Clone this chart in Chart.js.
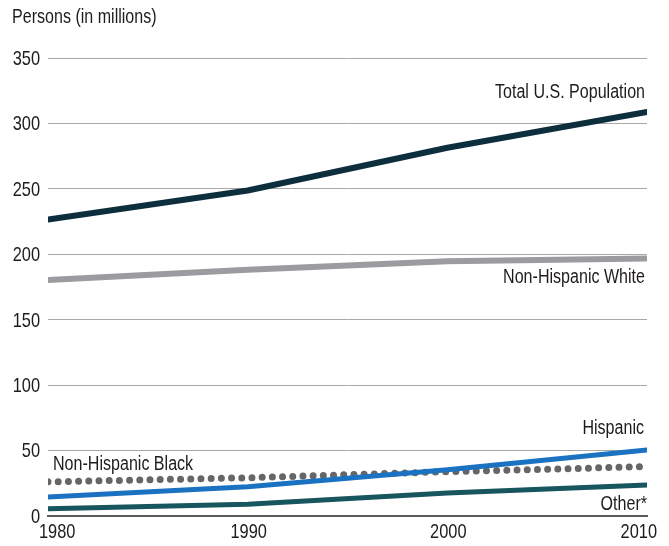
<!DOCTYPE html>
<html>
<head>
<meta charset="utf-8">
<script src="https://cdn.jsdelivr.net/npm/chart.js@4/dist/chart.umd.min.js"></script>
<style>
  html, body { margin: 0; padding: 0; background: #fff; }
  #wrap { width: 669px; height: 546px; position: relative; }
</style>
</head>
<body>
<div id="wrap"><canvas id="myChartPop"></canvas></div>
<script>
// data (persons, millions)
const years = [1980, 1990, 2000, 2010];
const totalPop = [226.5, 248.7, 281.4, 308.7];
const nhWhite = [180.3, 188.1, 194.6, 196.8];
const hispanic = [14.6, 22.4, 35.3, 50.5];
const nhBlack = [26.1, 29.2, 33.9, 37.7];
const other = [5.5, 9.0, 17.6, 23.7];
const yTicks = [0, 50, 100, 150, 200, 250, 300, 350];

// no condensed face installed, so text gets squeezed horizontally
const fontFam = "'Liberation Sans', Arial, sans-serif";
const textColor = '#1f1b1c';

function pts(vals) {
    return vals.map((v, i) => ({ x: years[i], y: v }));
}

function line(label, vals, color, width, extra) {
    return Object.assign({
        label: label,
        data: pts(vals),
        borderColor: color,
        backgroundColor: color,
        borderWidth: width,
        pointRadius: 0,
        tension: 0,
        borderCapStyle: 'round',
        borderJoinStyle: 'round'
    }, extra || {});
}

function squeezed(ctx, text, x, y, align, sx) {
    ctx.save();
    ctx.translate(x, y);
    ctx.scale(sx, 1);
    ctx.textAlign = align;
    ctx.fillText(text, 0, 0);
    ctx.restore();
}

// tick labels + series labels
const textPlugin = {
    id: 'condensedText',
    afterDraw(chart) {
        const ctx = chart.ctx;
        const xs = chart.scales.x;
        const ys = chart.scales.y;
        ctx.save();
        ctx.fillStyle = textColor;

        // ticks
        ctx.font = '21px ' + fontFam;
        ctx.textBaseline = 'middle';
        const tsx = 0.78;
        ys.ticks.forEach(t => {
            squeezed(ctx, String(t.value), 40, ys.getPixelForValue(t.value) + 1, 'right', tsx);
        });
        xs.ticks.forEach((t, i) => {
            const px = xs.getPixelForValue(t.value);
            if (i === 0) {
                squeezed(ctx, String(t.value), px - 9, 532, 'left', tsx);
            } else if (i === xs.ticks.length - 1) {
                squeezed(ctx, String(t.value), px + 10, 532, 'right', tsx);
            } else {
                squeezed(ctx, String(t.value), px + 1, 532, 'center', tsx);
            }
        });

        // labels
        ctx.font = '19.5px ' + fontFam;
        ctx.textBaseline = 'alphabetic';
        const lsx = 150 / ctx.measureText('Total U.S. Population').width;
        squeezed(ctx, 'Persons (in millions)', 12, 23, 'left', lsx);
        squeezed(ctx, 'Total U.S. Population', 645, 98, 'right', lsx);
        squeezed(ctx, 'Non-Hispanic White', 645, 283, 'right', lsx);
        squeezed(ctx, 'Hispanic', 644, 434, 'right', lsx);
        squeezed(ctx, 'Other*', 647, 510, 'right', lsx);
        squeezed(ctx, 'Non-Hispanic Black', 53, 470, 'left', lsx);
        ctx.restore();
    }
};

var ctxPop = document.getElementById('myChartPop').getContext('2d');
myChartPop = new Chart(ctxPop, {
    type: 'line',
    data: {
        datasets: [
            line('Total U.S. Population', totalPop, '#0d2e3d', 6),
            line('Hispanic', hispanic, '#1a72c0', 5),
            line('Non-Hispanic Black', nhBlack, '#666668', 7, { borderDash: [0, 10.2] }),
            line('Other*', other, '#17555f', 5),
            line('Non-Hispanic White', nhWhite, '#9c9ca0', 6)
        ]
    },
    options: {
        responsive: true,
        maintainAspectRatio: false,
        animation: false,
        layout: { padding: { left: 0, right: 22, top: 58, bottom: 0 } },
        plugins: {
            legend: { display: false },
            title: { display: false },
            tooltip: { enabled: false }
        },
        scales: {
            x: {
                type: 'linear',
                min: 1980,
                max: 2010,
                afterBuildTicks(scale) {
                    scale.ticks = years.map(v => ({ value: v }));
                },
                afterFit(scale) { scale.height = 30; },
                grid: { display: false, drawTicks: false },
                border: { display: true, color: '#5a5a5a', width: 2 },
                ticks: { display: false }
            },
            y: {
                min: 0,
                max: 350,
                afterBuildTicks(scale) {
                    scale.ticks = yTicks.map(v => ({ value: v }));
                },
                afterFit(scale) { scale.width = 48; },
                grid: { color: '#a8a8a8', lineWidth: 1, drawTicks: false },
                border: { display: false },
                ticks: { display: false }
            }
        }
    },
    plugins: [textPlugin]
});
</script>
</body>
</html>
